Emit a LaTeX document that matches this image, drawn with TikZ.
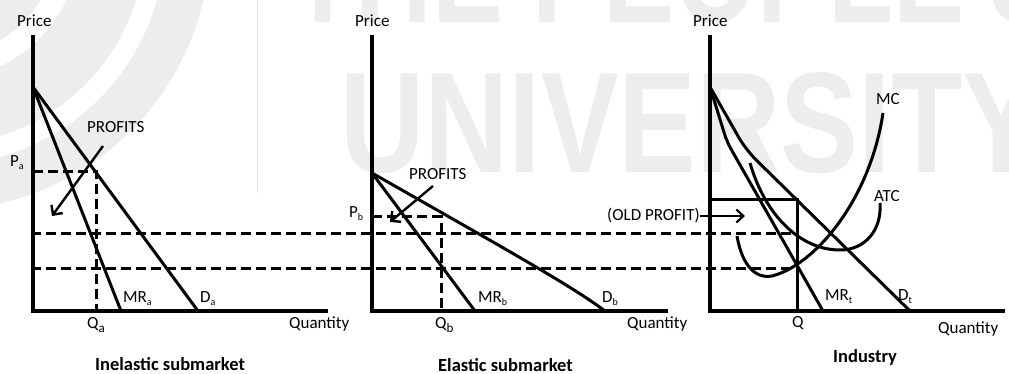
\documentclass[tikz,border=0pt]{standalone}
\usepackage{fontspec}
\setmainfont{Carlito}
\newfontfamily\wmfont{Liberation Sans}
\usetikzlibrary{arrows.meta}
\newcommand{\sbs}[1]{\raisebox{-3pt}{\fontsize{10}{10}\selectfont #1}}
\newcommand{\sbq}[1]{\raisebox{-4pt}{\fontsize{13}{13}\selectfont #1}}
\begin{document}
\begin{tikzpicture}[x=1pt,y=-1pt,
  axis/.style={line width=3.3pt},
  curve/.style={line width=3pt},
  guide/.style={line width=3pt, dash pattern=on 10pt off 5pt},
  lbl/.style={font=\fontsize{17}{20}\selectfont, inner sep=0pt, anchor=base west},
  ttl/.style={font=\fontsize{18.5}{22}\selectfont\bfseries, inner sep=0pt, anchor=base west},
  parrow/.style={line width=2.4pt, -{Straight Barb[length=7pt,width=14pt]}},
  wm/.style={black!7},
]
\useasboundingbox (0,0) rectangle (1009,374);
% ---------- watermark ----------
\begin{scope}
\clip (0,0) rectangle (1009,374);
\fill[wm, even odd rule] (-60,-60) circle (270) (-60,-60) circle (225);
\fill[wm, even odd rule] (-60,-60) circle (205) (-60,-60) circle (140);
\fill[wm] (-60,-60) circle (117);
\coordinate (wl0) at (257,0); \coordinate (wl1) at (257,193);
\draw[black!10, line width=1pt] (wl0) -- (wl1);
\node[wm, inner sep=0pt, anchor=base west] (wmu) at (340,173)
  {\resizebox{700pt}{100pt}{\wmfont\bfseries UNIVERSITY}};
\node[wm, inner sep=0pt, anchor=base west] (wmt) at (290,23)
  {\resizebox{770pt}{100pt}{\wmfont\bfseries THE PEOPLE'S}};
\end{scope}
% ---------- panel 1 ----------
\coordinate (t1) at (33,35); \coordinate (o1) at (33,311); \coordinate (r1) at (328,311);
\coordinate (a1) at (33,87); \coordinate (d1) at (198,311); \coordinate (m1) at (121,311);
\coordinate (pa) at (33,172); \coordinate (ka) at (96,172); \coordinate (qa) at (96,311);
\draw[axis] (t1) -- (o1) -- (r1);
\draw[curve] (a1) -- (d1);
\draw[curve] (a1) -- (m1);
\draw[guide] (pa) -- (ka) -- (qa);
\coordinate (pf1s) at (103,146); \coordinate (pf1e) at (52,216);
\draw[parrow] (pf1s) -- (pf1e);
\node[lbl] (price1) at (17,27) {Price};
\node[lbl] (lpa) at (10,167) {P\sbs{a}};
\node[lbl] (lqa) at (87,328) {Q\sbq{a}};
\node[lbl] (lmra) at (123,302) {MR\sbs{a}};
\node[lbl] (lda) at (200,302) {D\sbs{a}};
\node[lbl] (quan1) at (289,328) {Quantity};
\node[lbl] (prof1) at (87,133) {PROFITS};
\node[ttl] (tt1) at (95,370) {Inelastic submarket};
% ---------- panel 2 ----------
\coordinate (t2) at (372,35); \coordinate (o2) at (372,311); \coordinate (r2) at (668,311);
\coordinate (a2) at (372,173); \coordinate (d2) at (605,311); \coordinate (m2) at (475,311);
\coordinate (pb) at (372,217); \coordinate (kb) at (441,217); \coordinate (qb) at (441,311);
\draw[axis] (t2) -- (o2) -- (r2);
\draw[curve] (a2) .. controls (500,246) and (572,286) .. (d2);
\draw[curve] (a2) -- (m2);
\draw[guide] (pb) -- (kb) -- (qb);
\coordinate (pf2s) at (433,186); \coordinate (pf2e) at (390,222);
\draw[parrow] (pf2s) -- (pf2e);
\node[lbl] (price2) at (355,27) {Price};
\node[lbl] (lpb) at (349,218) {P\sbs{b}};
\node[lbl] (lqb) at (435,328) {Q\sbq{b}};
\node[lbl] (lmrb) at (478,302) {MR\sbs{b}};
\node[lbl] (ldb) at (602,302) {D\sbs{b}};
\node[lbl] (quan2) at (627,328) {Quantity};
\node[lbl] (prof2) at (409,180) {PROFITS};
\node[ttl] (tt2) at (438,371) {Elastic submarket};
% ---------- panel 3 ----------
\coordinate (t3) at (710,35); \coordinate (o3) at (710,311); \coordinate (r3) at (1005,311);
\coordinate (a3) at (710,87); \coordinate (k3) at (746,150); \coordinate (d3) at (910,311);
\coordinate (km) at (727,142); \coordinate (m3) at (823,311);
\coordinate (rl) at (710,200); \coordinate (rr) at (797,200); \coordinate (qq) at (797,311);
\draw[axis] (t3) -- (o3) -- (r3);
\draw[curve, rounded corners=14pt] (a3) -- (k3) -- (d3);
\draw[curve, rounded corners=8pt] (a3) -- (km) -- (m3);
\draw[curve] (rl) -- (rr) -- (qq);
% MC
\coordinate (mc0) at (737,236); \coordinate (mcm) at (772,276); \coordinate (mc1) at (883,113);
\draw[curve] (mc0) .. controls (742,265) and (755,279) .. (mcm)
             .. controls (815,265) and (870,200) .. (mc1);
% ATC
\coordinate (ac0) at (750,163); \coordinate (acm) at (840,250); \coordinate (ac1) at (880,203);
\draw[curve] (ac0) .. controls (765,215) and (800,250) .. (acm)
             .. controls (865,250) and (882,230) .. (ac1);
\node[lbl] (price3) at (693,27) {Price};
\node[lbl] (lq) at (792,327) {Q};
\node[lbl] (lmrt) at (825,300) {MR\sbs{t}};
\node[lbl] (ldt) at (898,300) {D\sbs{t}};
\node[lbl] (lmc) at (876,105) {MC};
\node[lbl] (latc) at (874,202) {ATC};
\node[lbl] (quan3) at (938,333) {Quantity};
\node[ttl] (tt3) at (833,362) {Industry};
\node[lbl] (old) at (607,220) {(OLD PROFIT)};
\coordinate (oe) at (745,216);
\draw[line width=2.2pt, -{Straight Barb[length=7pt,width=13pt]}] (old.east |- oe) -- (oe);
% ---------- long dashed guides ----------
\coordinate (h1s) at (31,233); \coordinate (h1e) at (797,233);
\coordinate (h2s) at (31,268); \coordinate (h2e) at (797,268);
\draw[guide] (h1s) -- (h1e);
\draw[guide] (h2s) -- (h2e);
\end{tikzpicture}
\end{document}
